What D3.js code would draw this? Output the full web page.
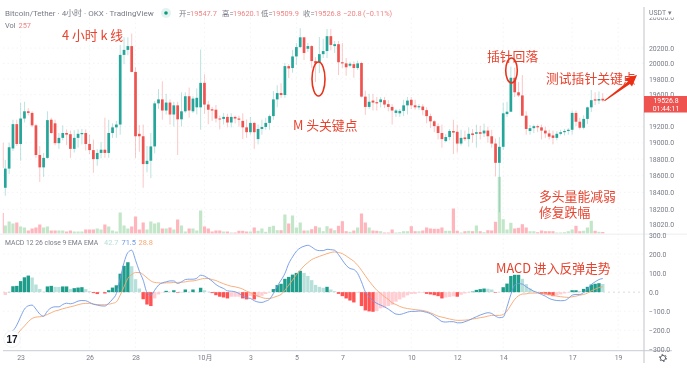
<!DOCTYPE html>
<html>
<head>
<meta charset="utf-8">
<script src="https://cdn.jsdelivr.net/npm/d3@7"></script>
<style>
  html, body { margin: 0; padding: 0; background: #fff; }
  svg { display: block; filter: blur(0.35px); }
  text { font-family: Roboto, "Noto Sans CJK SC", sans-serif; }
  .note { font-family: "Noto Sans CJK SC", sans-serif; font-size: 12.8px; fill: #e8432e; }
  .axis text { font-size: 6.9px; fill: #787b86; }
  .axis line, .axis path { display: none; }
  .legend { font-size: 7.4px; fill: #787b86; }
</style>
</head>
<body>
<div class="canvas"></div>
<script>
// candles, one per 4h
const opens = [18455,18685,18930,19230,18985,19300,19390,19370,19215,18850,18700,18815,19285,19240,18995,19060,19120,19105,18925,19060,19105,19120,18985,18910,18800,18875,18915,18875,19120,19190,19225,20110,20175,20225,19890,19110,19080,18740,18780,18955,19490,19540,19400,19500,19350,19465,19290,19390,19580,19390,19440,19440,19750,19475,19415,19410,19300,19295,19320,
  19250,19320,19300,19270,19190,19130,19245,19045,19170,19195,19245,19330,19540,19620,19595,19965,19940,20090,20212,20340,20190,20225,20030,20015,20120,20160,20355,20225,20250,20015,20000,19970,19990,19940,20005,19575,19445,19525,19505,19505,19530,19480,19445,19370,19365,19395,19465,19535,19465,19440,19450,19405,19330,19265,19205,19120,19020,19070,19145,19135,
  18990,19065,19045,19115,19110,19130,19115,19150,19080,18990,18755,18950,19355,19385,19815,19630,19590,19335,19145,19180,19205,19190,19150,19115,19090,19060,19110,19130,19145,19160,19370,19260,19185,19295,19440,19540,19525,19547.7];
const closes = [18685,18945,19230,18985,19300,19390,19370,19215,18850,18700,18815,19280,19120,18995,19060,19120,19100,18925,19060,19110,19120,18985,18910,18800,18875,18915,18875,19120,19190,19225,20110,20175,20225,19890,19080,19080,18740,18780,18955,19490,19540,19400,19500,19350,19465,19290,19390,19580,19400,19550,19560,19750,19475,19410,19400,19300,19290,19320,19250,
  19320,19300,19285,19190,19130,19245,19130,19170,19195,19245,19330,19540,19620,19595,19965,19935,20090,20212,20340,20135,20225,20030,20000,20120,20160,20355,20240,20250,20015,20000,19950,19995,19940,20000,19575,19445,19510,19500,19490,19540,19475,19445,19400,19400,19395,19465,19525,19465,19440,19455,19405,19330,19265,19205,19120,19045,19070,19145,19125,18990,
  19060,19045,19110,19095,19130,19110,19150,19080,18990,18755,18950,19365,19385,19815,19630,19590,19335,19170,19180,19205,19190,19150,19115,19075,19060,19110,19130,19145,19160,19370,19260,19185,19295,19440,19530,19525,19545,19526.8];
const highs = [18790,19000,19285,19285,19500,19510,19430,19390,19235,18960,18875,19390,19310,19285,19120,19215,19165,19150,19155,19165,19170,19165,19100,19040,18920,19010,19310,19285,19240,19270,20240,20340,20340,20390,19950,19220,19225,18960,19120,19520,19670,19770,19610,19540,19510,19510,19630,19630,19690,19580,19680,20180,19860,19520,19445,19470,19335,19370,19360,
  19365,19335,19335,19365,19290,19320,19260,19225,19285,19310,19350,19645,19720,19745,20005,19990,20175,20265,20460,20344,20265,20240,20080,20344,20320,20450,20450,20290,20290,20265,20070,20020,20025,20035,20020,19650,19610,19610,19570,19570,19570,19530,19480,19420,19420,19535,19570,19570,19535,19480,19480,19440,19360,19280,19240,19224,19105,19170,19285,19224,
  19160,19150,19190,19170,19224,19210,19235,19200,19160,19050,19070,19500,19510,19960,19945,19760,19850,19390,19220,19225,19225,19225,19200,19160,19150,19140,19160,19170,19180,19400,19400,19310,19340,19450,19660,19630,19640,19620.1];
const lows = [18360,18620,18900,18960,18780,19250,19340,19190,18815,18525,18585,18803,19110,18970,18925,19030,18970,18815,18880,18940,18980,18905,18860,18635,18720,18810,18815,18815,19060,19060,19100,19990,20105,19885,18815,18890,18455,18640,18570,18870,19420,19285,19350,19224,19200,18850,19200,19370,19310,19370,19350,19160,19360,19230,19270,19250,19165,19225,19190,
  19190,19240,19200,19045,19060,19100,18925,18980,19100,19160,19160,19285,19440,19560,19560,19810,19880,19980,20200,20044,20150,19940,19760,19875,20070,20070,20170,20135,19850,19940,19840,19950,19815,19915,19565,19345,19420,19400,19400,19440,19430,19390,19224,19320,19320,19330,19350,19420,19410,19410,19340,19240,19180,19130,19040,18940,19005,19030,18862,18880,
  18965,19020,18950,19000,18940,19040,19070,19000,18940,18590,18165,18915,19320,19380,19570,19570,19330,19100,19100,19120,19130,19040,19060,19040,18980,19030,19090,19090,19100,19100,19205,19165,19165,19230,19380,19470,19480,19509.9];
const volumes = [1360,2040,1700,1870,1190,1020,510,850,1020,1530,1020,1190,510,510,510,510,340,510,340,340,340,680,680,680,850,680,1530,1190,510,340,3570,1360,850,1190,2890,680,1870,680,2040,1700,1870,850,850,1020,680,2380,1360,340,850,850,510,3910,1190,850,340,510,510,340,340,
  170,170,460,460,340,340,1020,460,850,290,1140,1310,560,560,3230,1700,3060,1020,1870,510,510,730,1240,1020,390,1240,850,560,1310,2090,390,290,510,1020,3400,1870,1020,510,460,390,170,170,680,170,220,390,390,1240,390,390,510,1020,850,800,800,1020,460,460,4250,460,
  170,390,460,390,1360,390,220,560,510,1990,9640,2430,680,1820,850,970,1580,1020,390,390,220,510,390,390,390,170,170,220,390,680,1310,390,460,1020,2160,460,290,257];

// the bar cut off by the left edge, only its wick and volume show
const edgeWick = [19000, 18690];
const edgeVolume = [3500];

// MACD pane
const macdHist = [-15,1,31,33,58,78,87,77,40,17,2,30,33,28,27,30,30,17,21,24,26,16,5,-5,-10,-1,-7,10,24,36,97,138,157,136,68,19,-37,-65,-73,-33,-12,-2,7,2,10,-3,1,14,2,14,2,23,10,2,-5,-16,-24,-28,-33,
  -24,-24,-24,-33,-38,-21,-38,-26,-19,-10,-2,16,37,44,70,80,92,101,112,101,85,63,38,28,23,28,14,5,-9,-21,-33,-44,-54,-4,-73,-96,-101,-103,-99,-85,-82,-73,-66,-50,-38,-28,-17,-10,-9,-3,-3,-9,-12,-16,-21,-33,-28,-25,-22,-24,
  -14,-7,-3,3,12,16,19,18,14,-3,-1,26,45,85,91,91,70,42,19,5,-1,-9,-12,-16,-21,-17,-12,-7,-3,10,10,5,17,28,40,44,47,42.7];
const macdLine = [-222,-211,-202,-173,-129,-89,-72,-68,-89,-115,-126,-99,-82,-77,-77,-65,-58,-61,-56,-47,-44,-45,-54,-63,-68,-72,-73,-58,-37,-7,72,155,208,220,168,110,63,-2,-16,10,37,49,54,59,59,45,54,66,68,68,73,89,84,72,58,40,28,19,7,
  5,2,-7,-21,-30,-33,-45,-52,-54,-47,-37,-7,31,63,98,150,185,215,232,241,246,237,223,218,218,225,223,220,197,168,141,124,119,98,54,2,-24,-45,-59,-68,-77,-89,-103,-115,-117,-112,-105,-101,-101,-99,-101,-106,-113,-126,-140,-154,-157,-155,-155,-161,
  -161,-155,-148,-138,-129,-120,-113,-108,-112,-126,-134,-131,-77,-12,37,45,42,28,16,5,-2,-12,-21,-33,-40,-44,-45,-44,-33,-16,-12,-12,-2,16,40,54,66,71.5];
const signalLine = [null,null,null,-225,-199,-178,-155,-138,-131,-129,-126,-117,-108,-99,-94,-87,-82,-77,-72,-66,-61,-59,-59,-63,-65,-66,-66,-63,-59,-51,-16,28,72,92,103,103,92,75,59,51,49,47,49,49,51,51,52,54,58,59,63,68,72,72,66,61,52,44,37,
  31,28,23,16,5,-3,-12,-21,-28,-33,-33,-28,-21,-12,10,37,63,92,115,138,155,171,180,188,195,202,208,211,208,202,190,176,162,141,115,86,58,33,10,-7,-24,-38,-56,-65,-75,-82,-86,-89,-92,-94,-96,-101,-108,-117,-126,-131,-136,-141,-145,-148,
  -148,-147,-145,-141,-138,-134,-131,-126,-122,-122,-122,-117,-99,-68,-38,-19,-10,-9,-5,-5,-5,-5,-7,-12,-17,-21,-24,-26,-28,-24,-21,-16,-12,-5,7,16,24,28.8];

// axis labels
const priceTicks = [20600,20200,20000,19800,19600,19200,19000,18800,18600,18400,18200,18020];
const macdTicks = [300,200,100,0,-100,-200,-300];
const dateTicks = [4,22,34,52,64,76,88,106,118,130,148,160];
const dateLabels = ['23','26','28','10月','3','5','7','10','12','14','17','19'];

const teal = '#26a69a', red = '#ef5350';
const blue = '#6f97e6', orange = '#f6a772';
const muted = '#787b86';

const svg = d3.select('.canvas')
  .append('svg')
  .attr('width', 687)
  .attr('height', 369);

// scales, price pane is logarithmic
const x = d3.scaleLinear().domain([0, 160]).range([5.3, 618.1]);
const y = d3.scaleLog().domain([20200, 18200]).range([48, 209.3]);
const yVol = d3.scaleLinear().domain([0, 9640]).range([233.5, 176.8]);
const yMacd = d3.scaleLinear().domain([-300, 300]).range([349.3, 235]);

const idx = d3.range(opens.length);

// grid
const grid = svg.append('g')
  .attr('stroke', '#eff1f5')
  .attr('stroke-width', 0.8)
  .attr('stroke-dasharray', '1.5 3');
grid.selectAll('.gx').data(dateTicks).enter().append('line')
  .attr('x1', d => x(d)).attr('x2', d => x(d))
  .attr('y1', 18).attr('y2', 350);
grid.selectAll('.gy').data(priceTicks.slice(1, -1)).enter().append('line')
  .attr('x1', 3).attr('x2', 644)
  .attr('y1', d => y(d)).attr('y2', d => y(d));
grid.selectAll('.gm').data(macdTicks.filter(d => d !== 0 && Math.abs(d) < 300)).enter().append('line')
  .attr('x1', 3).attr('x2', 644)
  .attr('y1', d => yMacd(d)).attr('y2', d => yMacd(d));

// volume bars
svg.append('g').selectAll('rect').data(idx).enter().append('rect')
  .attr('x', i => x(i) - 1.6)
  .attr('width', 3.2)
  .attr('y', i => yVol(volumes[i]))
  .attr('height', i => yVol(0) - yVol(volumes[i]))
  .attr('fill', i => closes[i] >= opens[i] ? '#c3e6c9' : '#ffb5bc');
svg.append('rect')
  .attr('x', x(-0.52) - 0.5)
  .attr('width', 1)
  .attr('y', yVol(edgeVolume[0]))
  .attr('height', yVol(0) - yVol(edgeVolume[0]))
  .attr('fill', '#ffb5bc');

// wicks then bodies
const candles = svg.append('g');
candles.append('line')
  .attr('x1', x(-0.52)).attr('x2', x(-0.52))
  .attr('y1', y(edgeWick[0])).attr('y2', y(edgeWick[1]))
  .attr('stroke', red).attr('stroke-width', 0.9).attr('opacity', 0.35);
candles.selectAll('.wick').data(idx).enter().append('line')
  .attr('x1', i => x(i)).attr('x2', i => x(i))
  .attr('y1', i => y(highs[i])).attr('y2', i => y(lows[i]))
  .attr('stroke', i => closes[i] >= opens[i] ? teal : red)
  .attr('stroke-width', 0.9)
  .attr('opacity', 0.35);
candles.selectAll('rect').data(idx).enter().append('rect')
  .attr('x', i => x(i) - 1.35)
  .attr('width', 2.7)
  .attr('y', i => y(Math.max(opens[i], closes[i])))
  .attr('height', i => Math.max(1, Math.abs(y(opens[i]) - y(closes[i]))))
  .attr('fill', i => closes[i] >= opens[i] ? teal : red);

// macd zero line
svg.append('line')
  .attr('x1', 3).attr('x2', 644)
  .attr('y1', yMacd(0)).attr('y2', yMacd(0))
  .attr('stroke', '#d9dbe1')
  .attr('stroke-dasharray', '2 3');

// histogram colour depends on direction against the previous bar
const histColour = i => {
  const v = macdHist[i], prev = i ? macdHist[i - 1] : v;
  if (v >= 0) return v >= prev ? '#1f9d8b' : '#b7e0da';
  return v < prev ? '#ff5252' : '#ffcdd2';
};
svg.append('g').selectAll('rect').data(idx).enter().append('rect')
  .attr('x', i => x(i) - 1.7)
  .attr('width', 3.4)
  .attr('y', i => yMacd(Math.max(macdHist[i], 0)))
  .attr('height', i => Math.abs(yMacd(macdHist[i]) - yMacd(0)))
  .attr('fill', histColour);

const macdPath = d3.line()
  .defined(d => d[1] !== null)
  .x(d => x(d[0]))
  .y(d => yMacd(d[1]))
  .curve(d3.curveMonotoneX);
svg.append('path')
  .attr('d', macdPath(signalLine.map((v, i) => [i, v])))
  .attr('fill', 'none').attr('stroke', orange).attr('stroke-width', 0.9);
svg.append('path')
  .attr('d', macdPath(macdLine.map((v, i) => [i, v])))
  .attr('fill', 'none').attr('stroke', blue).attr('stroke-width', 0.9);

// pane borders
svg.append('rect').attr('x', 0).attr('y', 233.6).attr('width', 687).attr('height', 1.2).attr('fill', '#eef0f3');
svg.append('rect').attr('x', 643.2).attr('y', 7).attr('width', 1.6).attr('height', 356).attr('fill', '#d8dade');
svg.append('rect').attr('x', 3).attr('y', 350.2).attr('width', 669).attr('height', 1).attr('fill', '#c9cbd1');

// axes
svg.append('g').attr('class', 'axis')
  .attr('transform', 'translate(644,0)')
  .call(d3.axisRight(y).tickValues(priceTicks).tickSize(0).tickPadding(5).tickFormat(d3.format('.1f')));
svg.append('g').attr('class', 'axis')
  .attr('transform', 'translate(644,0)')
  .call(d3.axisRight(yMacd).tickValues(macdTicks).tickSize(0).tickPadding(5)
    .tickFormat(d => d3.format('.1f')(d).replace('-', '\u2212')));
svg.append('g').attr('class', 'axis')
  .attr('transform', 'translate(0,352)')
  .call(d3.axisBottom(x).tickValues(dateTicks).tickSize(0).tickPadding(3)
    .tickFormat((d, i) => dateLabels[i]));

// cover over the top of the price axis
svg.append('rect').attr('x', 645).attr('y', 0).attr('width', 42).attr('height', 17.5).attr('fill', '#fff');
svg.append('text').attr('class', 'legend').attr('x', 649).attr('y', 14.5)
  .style('font-size', '6.9px').text('USDT ▾');

// last price label
svg.append('rect').attr('x', 644).attr('y', 96).attr('width', 43).attr('height', 16.5).attr('fill', red);
svg.append('text').attr('x', 666).attr('y', 103.2).attr('text-anchor', 'middle')
  .attr('fill', '#fff').style('font-size', '6.9px').text(d3.format('.1f')(closes[closes.length - 1]));
svg.append('text').attr('x', 666).attr('y', 110.5).attr('text-anchor', 'middle')
  .attr('fill', '#fff').style('font-size', '6.9px').text('01:44:11');

// legends
const label = (px, py, s, fill, size) => svg.append('text')
  .attr('class', 'legend').attr('x', px).attr('y', py)
  .style('fill', fill || muted).style('font-size', (size || 7.4) + 'px').text(s);

label(5, 16, 'Bitcoin/Tether · 4小时 · OKX · TradingView', muted, 8);
svg.append('circle').attr('cx', 166).attr('cy', 13).attr('r', 5).attr('fill', '#e3f3f0');
svg.append('circle').attr('cx', 166).attr('cy', 13).attr('r', 1.8).attr('fill', '#089981');

const valueRed = '#ee8583';
label(179, 16, '开=');
label(190, 16, '19547.7', valueRed);
label(222, 16, '高=');
label(233, 16, '19620.1', valueRed);
label(261, 16, '低=');
label(272, 16, '19509.9', valueRed);
label(303, 16, '收=');
label(314, 16, '19526.8', valueRed);
label(343, 16, '−20.8', valueRed);
label(363, 16, '(−0.11%)', valueRed);
label(5, 28, 'Vol');
label(18.5, 28, '257', valueRed);
label(5, 245, 'MACD 12 26 close 9 EMA EMA', muted, 6.8);
label(104, 245, '42.7', '#b7e0da');
label(121.5, 245, '71.5', blue);
label(138.5, 245, '28.8', orange);

// hand drawn notes
const notes = [
  ['4 小时 k 线', 62, 40],
  ['M 头关键点', 293, 130],
  ['插针回落', 487, 61],
  ['测试插针关键点', 546, 83],
  ['多头量能减弱', 539, 201],
  ['修复跌幅', 539, 217],
  ['MACD 进入反弹走势', 496, 273]
];
svg.selectAll('.note').data(notes).enter().append('text')
  .attr('class', 'note')
  .attr('x', d => d[1]).attr('y', d => d[2])
  .text(d => d[0]);

const rings = [[318.5, 79, 6.5, 17], [511.5, 70.5, 5.8, 12.5]];
svg.selectAll('.ring').data(rings).enter().append('ellipse')
  .attr('cx', d => d[0]).attr('cy', d => d[1])
  .attr('rx', d => d[2]).attr('ry', d => d[3])
  .attr('fill', 'none').attr('stroke', '#e8341c').attr('stroke-width', 1.6);

svg.append('path')
  .attr('d', 'M604,100.5L628,81.5L625,78.5L637,75L632,86.5L630,84L605,101Z')
  .attr('fill', '#ea2f14');

// tradingview badge
svg.append('circle').attr('cx', 12).attr('cy', 339).attr('r', 8.3)
  .attr('fill', '#fff').attr('stroke', '#eceef2').attr('stroke-width', 0.7);
svg.append('text').attr('x', 12).attr('y', 342.6).attr('text-anchor', 'middle')
  .attr('fill', '#131722').style('font-size', '10px').style('font-weight', 700)
  .style('font-family', '"Liberation Sans"').text('17');

// settings gear
svg.append('circle').attr('cx', 663).attr('cy', 358).attr('r', 2.6)
  .attr('fill', 'none').attr('stroke', '#50535e').attr('stroke-width', 0.9);
svg.append('circle').attr('cx', 663).attr('cy', 358).attr('r', 3.6)
  .attr('fill', 'none').attr('stroke', '#50535e').attr('stroke-width', 0.9).attr('stroke-dasharray', '1.6 2.17');
</script>
</body>
</html>
